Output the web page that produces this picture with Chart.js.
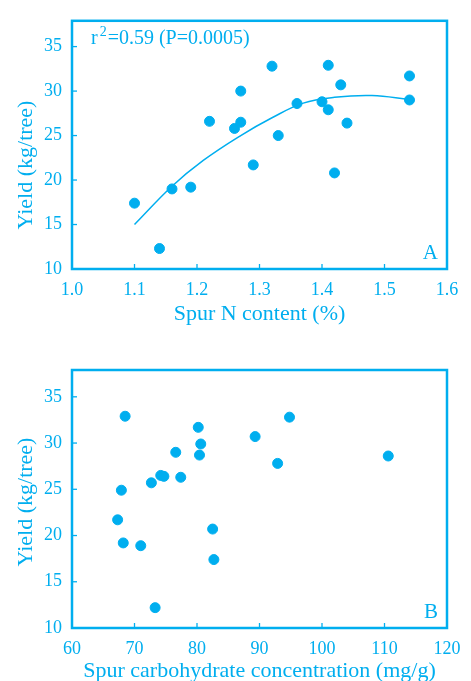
<!DOCTYPE html>
<html>
<head>
<meta charset="utf-8">
<script src="https://cdn.jsdelivr.net/npm/chart.js@4/dist/chart.umd.min.js"></script>
<style>
  body { margin: 0; background: #fff; }
  #wrapA { position: absolute; left: 0; top: 0; }
  #wrapB { position: absolute; left: 0; top: 340px; }
</style>
</head>
<body>
<div id="wrapA"><canvas id="chartA" width="471" height="340"></canvas></div>
<div id="wrapB"><canvas id="chartB" width="471" height="341"></canvas></div>
<script>
// panel A: spur N content vs yield
var nContent = [1.10, 1.14, 1.16, 1.19, 1.22, 1.26, 1.27, 1.27, 1.29, 1.32, 1.33, 1.36, 1.40, 1.41, 1.41, 1.42, 1.43, 1.44, 1.54, 1.54];
var yieldA = [17.4, 12.3, 19.0, 19.2, 26.6, 25.8, 26.5, 30.0, 21.7, 32.8, 25.0, 28.6, 28.8, 32.9, 27.9, 20.8, 30.7, 26.4, 31.7, 29.0];

// fitted curve
var fitX = [1.10, 1.16, 1.21, 1.27, 1.32, 1.37, 1.42, 1.48, 1.54];
var fitY = [15.0, 19.3, 22.2, 25.0, 27.0, 28.65, 29.3, 29.5, 29.05];

// panel B: spur carbohydrate vs yield
var carbo = [68.5, 67.9, 67.3, 68.2, 71.0, 73.3, 72.7, 74.2, 74.7, 76.6, 77.4, 80.2, 80.6, 80.4, 82.5, 82.7, 89.3, 92.9, 94.8, 110.6];
var yieldB = [32.9, 24.9, 21.7, 19.2, 18.9, 12.2, 25.7, 26.5, 26.4, 29.0, 26.3, 31.7, 29.9, 28.7, 20.7, 17.4, 30.7, 27.8, 32.8, 28.6];

var xTicksA = [1.0, 1.1, 1.2, 1.3, 1.4, 1.5, 1.6];
var xTicksB = [60, 70, 80, 90, 100, 110, 120];
var yTicks = [10, 15, 20, 25, 30, 35];

var cyan = '#00aeef';
var serif = "'Liberation Serif', 'DejaVu Serif', serif";

const pairs = (xs, ys) => xs.map((x, i) => ({x: x, y: ys[i]}));

// frame, inward ticks, y title, panel letter, note
const decor = {
    id: 'decor',
    afterDraw(chart, args, opts) {
        const ctx = chart.ctx;
        const a = chart.chartArea;
        const sx = chart.scales.x, sy = chart.scales.y;
        ctx.save();
        ctx.strokeStyle = cyan;
        ctx.lineWidth = 1.3;
        sx.ticks.forEach(t => {
            const px = sx.getPixelForValue(t.value);
            ctx.beginPath(); ctx.moveTo(px, a.bottom); ctx.lineTo(px, a.bottom - 5); ctx.stroke();
        });
        sy.ticks.forEach(t => {
            const py = sy.getPixelForValue(t.value);
            ctx.beginPath(); ctx.moveTo(a.left, py); ctx.lineTo(a.left + 5, py); ctx.stroke();
        });
        ctx.lineWidth = 2.5;
        ctx.strokeRect(a.left, a.top, a.right - a.left, a.bottom - a.top);

        ctx.fillStyle = cyan;
        // y title
        ctx.save();
        ctx.translate(26, opts.yTitleY);
        ctx.rotate(-Math.PI / 2);
        ctx.font = '22px ' + serif;
        ctx.textAlign = 'center';
        ctx.textBaseline = 'middle';
        ctx.fillText('Yield (kg/tree)', 0, 0);
        ctx.restore();

        // panel letter
        ctx.font = '21px ' + serif;
        ctx.textAlign = 'right';
        ctx.textBaseline = 'alphabetic';
        ctx.fillText(opts.letter, a.right - 9, a.bottom - 10);

        if (opts.note) {
            ctx.textAlign = 'left';
            ctx.font = '20px ' + serif;
            let x = 91;
            ctx.fillText('r', x, 44);
            x += ctx.measureText('r').width + 2;
            ctx.font = '14px ' + serif;
            ctx.fillText('2', x, 36);
            x += ctx.measureText('2').width + 1;
            ctx.font = '20px ' + serif;
            ctx.fillText('=0.59 (P=0.0005)', x, 44);
        }
        ctx.restore();
    }
};

const makeChart = (id, points, fit, xMin, xMax, xTicks, xTitle, tickFmt, decorOpts) => {
    var datasets = [{
        data: points,
        backgroundColor: cyan,
        borderColor: cyan,
        pointRadius: 5,
        pointHoverRadius: 5
    }];
    if (fit) {
        datasets.push({
            data: fit,
            showLine: true,
            borderColor: cyan,
            borderWidth: 1.5,
            pointRadius: 0,
            tension: 0.4
        });
    }
    return new Chart(document.getElementById(id), {
        type: 'scatter',
        data: {datasets: datasets},
        plugins: [decor],
        options: {
            responsive: false,
            animation: false,
            layout: {padding: {left: 0, right: 24, top: decorOpts.top, bottom: 0}},
            plugins: {
                legend: {display: false},
                tooltip: {enabled: false},
                decor: decorOpts
            },
            scales: {
                x: {
                    type: 'linear',
                    min: xMin,
                    max: xMax,
                    grid: {display: false, drawTicks: false},
                    border: {display: false},
                    afterBuildTicks: s => { s.ticks = xTicks.map(v => ({value: v})); },
                    afterFit: s => { s.height = decorOpts.xH; },
                    ticks: {
                        color: cyan,
                        font: {family: serif, size: 18},
                        padding: 10,
                        maxRotation: 0,
                        autoSkip: false,
                        callback: tickFmt
                    },
                    title: {
                        display: true,
                        text: xTitle,
                        color: cyan,
                        font: {family: serif, size: 22},
                        padding: {top: 0, bottom: decorOpts.titlePad}
                    }
                },
                y: {
                    type: 'linear',
                    min: 10,
                    max: 37.9,
                    grid: {display: false, drawTicks: false},
                    border: {display: false},
                    afterBuildTicks: s => { s.ticks = yTicks.map(v => ({value: v})); },
                    afterFit: s => { s.width = 72; },
                    ticks: {
                        color: cyan,
                        font: {family: serif, size: 18},
                        padding: 10
                    }
                }
            }
        }
    });
};

makeChart('chartA', pairs(nContent, yieldA), pairs(fitX, fitY), 1.0, 1.6, xTicksA,
    'Spur N content (%)', v => v.toFixed(1),
    {letter: 'A', yTitleY: 165, note: true, top: 11, xH: 71, titlePad: 13});

makeChart('chartB', pairs(carbo, yieldB), null, 60, 120, xTicksB,
    'Spur carbohydrate concentration (mg/g)', v => v,
    {letter: 'B', yTitleY: 162, note: false, top: 30, xH: 53, titlePad: -3});
</script>
</body>
</html>
